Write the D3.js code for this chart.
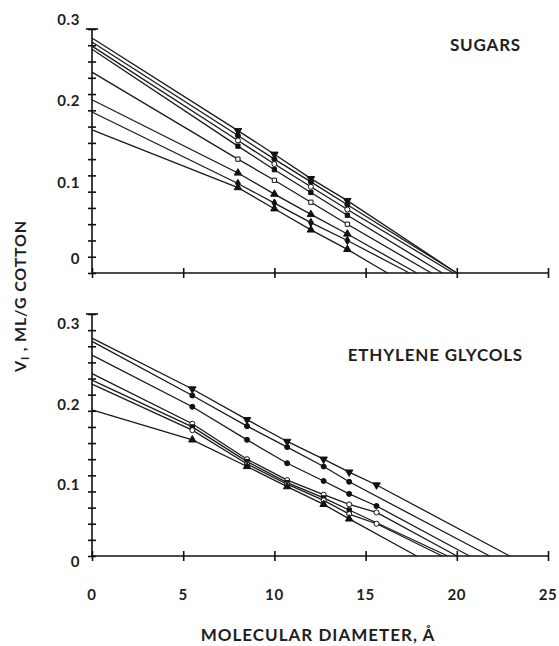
<!DOCTYPE html>
<html>
<head>
<style>
  body { margin: 0; background: #fff; }
  svg text { font-family: Lato, "Open Sans", sans-serif; font-weight: 700; fill: #1e1e1e; }
  .axis path, .axis line { stroke: #111; stroke-width: 1.6; }
  .fit { fill: none; stroke: #1a1a1a; stroke-width: 1.3; }
</style>
<script src="https://d3js.org/d3.v7.min.js"></script>
</head>
<body>
<script>
const w = 559, h = 646;

// molecular diameters (Å) of the probes
const sugarDiam = [8, 10, 12, 14];
const glycolDiam = [5.5, 8.5, 10.7, 12.7, 14.1, 15.6];

// sugars panel: V at zero diameter, diameter at V = 0, measured V
const sugarStart = [0.289, 0.284, 0.279, 0.275, 0.247, 0.213, 0.198, 0.176];
const sugarEnd = [20.0, 20.0, 19.8, 19.2, 18.6, 17.8, 17.4, 16.2];
const sugarVals = [
  [0.175, 0.146, 0.116, 0.089],
  [0.169, 0.140, 0.112, 0.084],
  [0.163, 0.134, 0.106, 0.078],
  [0.156, 0.127, 0.099, 0.071],
  [0.140, 0.114, 0.087, 0.060],
  [0.123, 0.097, 0.072, 0.048],
  [0.110, 0.086, 0.062, 0.040],
  [0.105, 0.079, 0.053, 0.029]
];
const sugarMarks = ["down", "dot", "ring", "square", "box", "up", "diamond", "up"];

// ethylene glycols panel
const glycolStart = [0.270, 0.266, 0.249, 0.226, 0.218, 0.213, 0.181];
const glycolEnd = [22.9, 21.8, 20.7, 20.0, 19.5, 19.2, 17.8];
const glycolVals = [
  [0.207, 0.169, 0.142, 0.120, 0.104, 0.088],
  [0.199, 0.161, 0.135, 0.111, 0.092, null],
  [0.185, 0.144, 0.115, 0.093, 0.077, 0.062],
  [0.164, 0.120, 0.094, 0.076, 0.064, 0.054],
  [0.160, 0.117, 0.091, 0.072, 0.057, null],
  [0.156, 0.114, 0.089, 0.069, 0.052, 0.040],
  [0.144, 0.111, 0.086, 0.064, 0.046, null]
];
const glycolMarks = ["down", "dot", "dot", "ring", "square", "ring", "up"];

const xTicks = [0, 5, 10, 15, 20, 25];
const yLabels = [0, 0.1, 0.2, 0.3];

const svg = d3.select("body").append("svg")
  .attr("width", w).attr("height", h);

const x = d3.scaleLinear().domain([0, 25]).range([92, 548]);

function symbolFor(kind) {
  if (kind == "dot" || kind == "ring") return d3.symbol(d3.symbolCircle, 20)();
  if (kind == "square" || kind == "box") return d3.symbol(d3.symbolSquare, 18)();
  if (kind == "diamond") return d3.symbol(d3.symbolDiamond, 20)();
  return d3.symbol(d3.symbolTriangle, 24)();
}

function panel(top, bottom, diam, starts, ends, vals, marks, title, tx, ty, labelDy, showX) {
  const y = d3.scaleLinear().domain([0, 0.3]).range([bottom, top]);
  const g = svg.append("g");

  // x axis
  const xa = g.append("g").attr("class", "axis")
    .attr("transform", "translate(0," + bottom + ")")
    .call(d3.axisBottom(x).tickValues(xTicks).tickSize(5).tickFormat(""));
  xa.selectAll(".tick line").attr("y1", -5).attr("y2", 5);
  xa.select(".domain").attr("d", "M" + x(0) + ",0H" + x(25));

  // y axis, minor ticks every 0.02
  const ya = g.append("g").attr("class", "axis")
    .attr("transform", "translate(" + x(0) + ",0)")
    .call(d3.axisLeft(y).tickValues(d3.range(0, 16).map(i => i * 0.02)).tickSize(4).tickFormat(""));
  ya.selectAll(".tick line").attr("x1", -4).attr("x2", 4);
  ya.select(".domain").attr("d", "M0," + y(0) + "V" + y(0.3));
  ya.append("line").attr("x1", -6).attr("x2", 6).attr("y1", y(0.3)).attr("y2", y(0.3));

  g.selectAll(".ylab").data(yLabels).enter().append("text")
    .attr("x", 80).attr("y", d => y(d) + labelDy(d))
    .attr("text-anchor", "end").attr("dominant-baseline", "middle")
    .attr("font-size", 15).attr("letter-spacing", 0.6)
    .text(d => d == 0 ? "0" : d.toFixed(1));

  if (showX) {
    g.selectAll(".xlab").data(xTicks).enter().append("text")
      .attr("x", d => x(d)).attr("y", bottom + 40)
      .attr("text-anchor", "middle").attr("dominant-baseline", "middle")
      .attr("font-size", 15).attr("letter-spacing", 0.6).text(d => d);
  }

  const line = d3.line().x(d => x(d[0])).y(d => y(d[1]));
  starts.forEach((s, i) => {
    const pts = [[0, s]];
    diam.forEach((d, j) => { if (vals[i][j] != null) pts.push([d, vals[i][j]]); });
    pts.push([ends[i], 0]);
    g.append("path").attr("class", "fit").attr("d", line(pts));

    const kind = marks[i];
    g.selectAll(null).data(diam.map((d, j) => [d, vals[i][j]]).filter(p => p[1] != null))
      .enter().append("path")
      .attr("d", symbolFor(kind))
      .attr("transform", p => "translate(" + x(p[0]) + "," + y(p[1]) + ")" + (kind == "down" ? " rotate(180)" : ""))
      .attr("fill", kind == "ring" || kind == "box" ? "#fff" : "#111")
      .attr("stroke", "#111").attr("stroke-width", 1);
  });

  g.append("text").attr("x", tx).attr("y", ty)
    .attr("text-anchor", "end").attr("dominant-baseline", "middle")
    .attr("font-size", 17).attr("letter-spacing", 0.8).text(title);
}

panel(29, 273, sugarDiam, sugarStart, sugarEnd, sugarVals, sugarMarks,
  "SUGARS", 521, 47, d => d == 0 ? -13 : -8, false);
panel(314, 556, glycolDiam, glycolStart, glycolEnd, glycolVals, glycolMarks,
  "ETHYLENE GLYCOLS", 523, 357, d => d == 0 ? 7 : 11, true);

svg.append("text").attr("x", 318).attr("y", 637)
  .attr("text-anchor", "middle").attr("dominant-baseline", "middle")
  .attr("font-size", 17).attr("letter-spacing", 1).text("MOLECULAR DIAMETER, Å");

const yt = svg.append("text")
  .attr("transform", "translate(22,296) rotate(-90)")
  .attr("text-anchor", "middle").attr("dominant-baseline", "middle")
  .attr("font-size", 16).attr("letter-spacing", 0.8);
yt.append("tspan").text("V");
yt.append("tspan").attr("font-size", 11).attr("dy", 4).text("I");
yt.append("tspan").attr("dy", -4).text(" , ML/G COTTON");
</script>
</body>
</html>
